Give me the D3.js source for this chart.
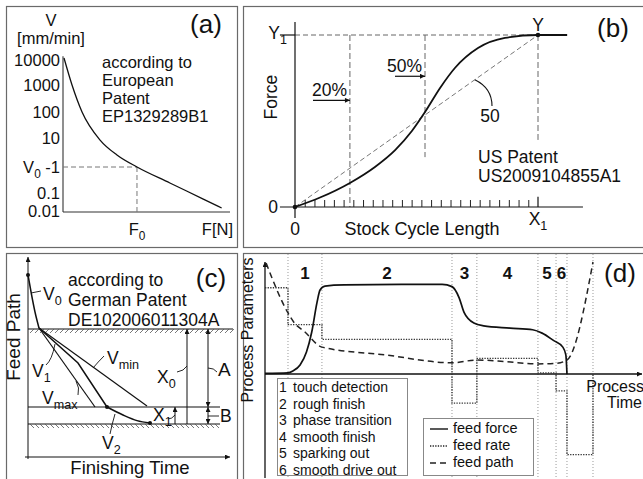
<!DOCTYPE html>
<html>
<head>
<meta charset="utf-8">
<script src="https://cdn.jsdelivr.net/npm/d3@7/dist/d3.min.js"></script>
<style>
html,body{margin:0;padding:0;background:#fff;}
svg{display:block;}
text{font-family:"Liberation Sans",Arial,Helvetica,sans-serif;fill:#111;}
</style>
</head>
<body>
<svg id="fig" width="643" height="479"></svg>
<script>
// ================= DATA =================
// Panel (a)
const aForce = [0.6, 5.4, 11.4, 22.2, 32.3, 44.3, 64, 84, 95];
const aSpeed = [12000, 1000, 100, 8.5, 2.6, 1, 0.243, 0.046, 0.0147];
const aTickValues = [0.01, 0.1, 1, 10, 100, 1000, 10000];
const aTickLabels = ["0.01", "0.1", "V0 -1", "10", "100", "1000", "10000"];
const aF0 = 44.3, aV0 = 1;
const aNote = ["according to", "European", "Patent", "EP1329289B1"];

// Panel (b)
const bLength = [0, 10.3, 22.6, 32.9, 41.2, 48.1, 53.5, 59.7, 65.8, 75.3, 86.4, 100, 112];
const bForce  = [0, 5.5, 14, 23.3, 33.1, 44.2, 55.2, 69.2, 80.8, 92.4, 98.3, 100, 100];
const bMarkPos = [22.6, 53.5];
const bMarkLabels = ["20%", "50%"];
const bMarkBottom = [0, 29];
const bTicks = [4,8,12,16,20,24,28,32,36,40,44,48,52,56,60,64,68,72,76,80,84,88,92,96];
const bNote = ["US Patent", "US2009104855A1"];

// Panel (c)
const cApproachT = [0, 1.8, 3.5, 5.5];
const cApproachX = [91, 81, 72.5, 64.5];
const cV1T = [5.5, 25, 39.5];
const cV1X = [64.5, 47, 25];
const cV2T = [39.5, 47.5, 54.5, 61];
const cV2X = [25, 21, 18.2, 17];
const cVmaxT = [5.5, 33.5], cVmaxX = [64.5, 25];
const cVminT = [5.5, 59.5], cVminX = [64.5, 25.5];
const cLevelX0 = 64, cLevelX1 = 25, cLevelEnd = 16.5;
const cNote = ["according to", "German Patent", "DE102006011304A"];

// Panel (d)
const dPhaseBounds = [6.1, 15.1, 49.6, 56.2, 72.4, 77.2, 80.1, 87];
const dPhaseLabels = ["1", "2", "3", "4", "5", "6"];
const dForceT = [0, 6.1, 7.4, 9.3, 11, 12.4, 13.8, 14.6, 15.9, 21, 40, 47, 49.6, 51.5, 52.8, 55.4, 58, 65, 71, 73.5, 76.5, 79, 79.8, 80.1];
const dForceV = [0.5, 1, 2.7, 8, 19.6, 37.5, 64, 75, 78.5, 79.5, 80, 80, 78, 68, 55, 45.5, 43, 41, 39.5, 36.5, 30, 24, 17, 0];
const dRateT = [0, 6.1, 15.1, 49.6, 56.2, 72.4, 77.2, 80.1, 87];
const dRateV = [77, 44, 31, -26, 14, 1, -15, -72, 0];
const dPathT = [0.3, 6.1, 7.7, 10.6, 15.1, 32, 49.6, 56.2, 64, 72.4, 77.2, 80.1, 87];
const dPathV = [99, 54.5, 46, 37.5, 24, 17, 10, 12.5, 11, 9, 9.5, 12.5, 100];
const dPhaseNames = ["touch detection", "rough finish", "phase transition", "smooth finish", "sparking out", "smooth drive out"];
const dLegendNames = ["feed force", "feed rate", "feed path"];

// ================= HELPERS =================
const svg = d3.select("#fig");
svg.append("rect").attr("width",643).attr("height",479).attr("fill","#fff");
const defs = svg.append("defs");
function mk(id, w, h) {
  defs.append("marker").attr("id", id).attr("viewBox","0 0 10 10")
    .attr("refX",10).attr("refY",5).attr("markerWidth",w).attr("markerHeight",h)
    .attr("markerUnits","userSpaceOnUse").attr("orient","auto-start-reverse")
    .append("path").attr("d","M0,0 L10,5 L0,10 Z").attr("fill","#111");
}
mk("arr", 8, 6); mk("arrS", 6, 5);
function ln(g, x1, y1, x2, y2, o = {}) {
  const l = g.append("line").attr("x1",x1).attr("y1",y1).attr("x2",x2).attr("y2",y2)
    .attr("stroke", o.c || "#111").attr("stroke-width", o.w || 1);
  if (o.d) l.attr("stroke-dasharray", o.d);
  if (o.ms) l.attr("marker-start", `url(#${o.ms})`);
  if (o.me) l.attr("marker-end", `url(#${o.me})`);
  return l;
}
// parts: array of [text, isSub]
function tx(g, x, y, parts, o = {}) {
  const size = o.size || 17;
  const t = g.append("text").attr("x", x).attr("y", y).attr("font-size", size)
    .attr("text-anchor", o.anchor || "start");
  if (o.weight) t.attr("font-weight", o.weight);
  if (o.rot) t.attr("transform", `rotate(${o.rot},${x},${y})`);
  if (typeof parts === "string") parts = [[parts, false]];
  let sub = false;
  parts.forEach(([s, isSub]) => {
    const sp = t.append("tspan").text(s);
    if (isSub && !sub) { sp.attr("dy", size * 0.28).attr("font-size", size * 0.72); sub = true; }
    else if (!isSub && sub) { sp.attr("dy", -size * 0.28); sub = false; }
    else if (isSub) sp.attr("font-size", size * 0.72);
  });
  return t;
}

// panel frames
[[6,6,231,241],[243,6,402,241],[6,253,231,227],[243,253,402,227]].forEach(r => {
  svg.append("rect").attr("x",r[0]+0.5).attr("y",r[1]+0.5).attr("width",r[2]).attr("height",r[3])
    .attr("fill","none").attr("stroke","#6a6a6a").attr("stroke-width",1.2);
});

// ================= PANEL (a) =================
{
  const g = svg.append("g");
  const x = d3.scaleLinear().domain([0, 100]).range([63, 230]);
  const yl = d3.scaleLinear().domain(aTickValues.map(Math.log10)).range([211, 193, 167, 138, 112, 85, 60]);
  const y = v => yl(Math.log10(v));
  ln(g, x(0), y(0.01) + 1, x(0), y(14000), {w: 1.1, c: "#333"});
  ln(g, x(0), y(0.01) + 1, x(100), y(0.01) + 1, {w: 1.1, c: "#333"});
  ln(g, x(0), y(aV0), x(aF0), y(aV0), {c: "#777", d: "5,3"});
  ln(g, x(aF0), y(aV0), x(aF0), y(0.01) + 1, {c: "#777", d: "5,3"});
  g.append("path").datum(aForce.map((f, i) => [f, aSpeed[i]]))
    .attr("fill","none").attr("stroke","#111").attr("stroke-width",1.3)
    .attr("d", d3.line().x(d => x(d[0])).y(d => y(d[1])).curve(d3.curveMonotoneX));
  aTickValues.forEach((v, i) => {
    const lab = aTickLabels[i];
    const parts = lab.startsWith("V0") ? [["V", false], ["0", true], [" -1", false]] : lab;
    tx(g, 60, y(v) + 6, parts, {anchor: "end", size: 16.5});
  });
  tx(g, 51, 26, "V", {anchor: "middle", size: 16.5});
  tx(g, 51, 44, "[mm/min]", {anchor: "middle", size: 16.5});
  tx(g, x(aF0), 235, [["F", false], ["0", true]], {anchor: "middle", size: 16.5});
  tx(g, 233, 235, "F[N]", {anchor: "end", size: 16.5});
  tx(g, 206, 33, "(a)", {anchor: "middle", size: 26});
  aNote.forEach((s, i) => tx(g, 102, 68 + i * 18, s, {size: 16.5}));
}

// ================= PANEL (b) =================
{
  const g = svg.append("g");
  const x = d3.scaleLinear().domain([0, 100]).range([295, 538]);
  const y = d3.scaleLinear().domain([0, 100]).range([207, 35]);
  // guides
  ln(g, x(0), y(100), x(100), y(100), {c: "#666", d: "5,3"});
  ln(g, x(0), y(0), x(100), y(100), {c: "#777", d: "5,3"});
  bMarkPos.forEach((p, i) => ln(g, x(p), y(100), x(p), y(bMarkBottom[i]), {c: "#666", d: "6,3"}));
  ln(g, x(100), y(100), x(100), y(39), {c: "#666", d: "6,3"});
  // axes
  ln(g, x(-6.2), y(0), x(118.5), y(0), {w: 1.2});
  ln(g, x(0), y(-6.4), x(0), y(107.6), {w: 1.2});
  ln(g, x(-6.2), y(100), x(0), y(100), {w: 1.2});
  ln(g, x(100), y(0), x(100), y(6), {w: 1.2});
  const ax = g.append("g").attr("transform", `translate(0,${y(0)})`)
    .call(d3.axisBottom(x).tickValues(bTicks).tickSize(-7).tickFormat(""));
  ax.select(".domain").remove();
  ax.selectAll("line").attr("stroke","#222").attr("stroke-width",1);
  // curve
  g.append("path").datum(bLength.map((l, i) => [l, bForce[i]]))
    .attr("fill","none").attr("stroke","#111").attr("stroke-width",1.8)
    .attr("d", d3.line().x(d => x(d[0])).y(d => y(d[1])).curve(d3.curveMonotoneX));
  g.append("circle").attr("cx", x(0)).attr("cy", y(0)).attr("r", 2.3).attr("fill","#111");
  g.append("circle").attr("cx", x(100)).attr("cy", y(100)).attr("r", 2.3).attr("fill","#111");
  // percent markers
  tx(g, 312, y(64.5), bMarkLabels[0], {size: 17.5});
  ln(g, 313, y(62), x(bMarkPos[0]), y(62), {w: 1.2, me: "arrS"});
  tx(g, 387, y(78.5), bMarkLabels[1], {size: 17.5});
  ln(g, 395, y(76), x(bMarkPos[1]), y(76), {w: 1.2, me: "arrS"});
  // "50" callout
  g.append("path").attr("d", `M${x(74)},${y(74)} Q492,88 492,106`).attr("fill","none").attr("stroke","#111").attr("stroke-width",1.1);
  tx(g, 490, 122, "50", {anchor: "middle", size: 17.5});
  bNote.forEach((s, i) => tx(g, 478, 163 + i * 19, s, {size: 17.5}));
  tx(g, 613, 37, "(b)", {anchor: "middle", size: 26});
  tx(g, 277, 97, "Force", {anchor: "middle", size: 17.5, rot: -90});
  tx(g, 422, 235, "Stock Cycle Length", {anchor: "middle", size: 18});
  tx(g, x(0), 235, "0", {anchor: "middle", size: 17.5});
  tx(g, 538, 225, [["X", false], ["1", true]], {anchor: "middle", size: 17.5});
  tx(g, 538, 31, "Y", {anchor: "middle", size: 17.5});
  tx(g, 287, 39, [["Y", false], ["1", true]], {anchor: "end", size: 17.5});
  tx(g, 278, 213, "0", {anchor: "end", size: 17.5});
}

// ================= PANEL (c) =================
{
  const g = svg.append("g");
  const x = d3.scaleLinear().domain([0, 100]).range([28, 228]);
  const y = d3.scaleLinear().domain([0, 100]).range([457, 257]);
  // axes
  ln(g, x(0), y(-1), x(0), y(100), {w: 1, me: "arrS"});
  ln(g, x(-1.5), y(0), x(101), y(0), {w: 1, me: "arrS"});
  // level lines
  ln(g, x(0), y(cLevelX0), x(102.5), y(cLevelX0), {w: 1.1});
  ln(g, x(0), y(cLevelX1), x(96), y(cLevelX1), {w: 1.1});
  ln(g, x(0), y(cLevelEnd), x(96), y(cLevelEnd), {w: 1.1});
  d3.range(x(1), x(102), 5).forEach(h => ln(g, h, y(cLevelX0) + 4, h + 4, y(cLevelX0), {w: 0.8, c: "#555"}));
  d3.range(x(1), x(95), 5).forEach(h => ln(g, h, y(cLevelEnd), h + 4, y(cLevelEnd) + 4, {w: 0.8, c: "#555"}));
  const lg = d3.line().x(d => x(d[0])).y(d => y(d[1]));
  const path = (T, X, w, curve) => g.append("path").datum(T.map((t, i) => [t, X[i]]))
    .attr("fill","none").attr("stroke","#111").attr("stroke-width",w)
    .attr("d", lg.curve(curve || d3.curveLinear));
  path(cApproachT, cApproachX, 1.5, d3.curveMonotoneX);
  path(cV1T, cV1X, 1.5);
  path(cV2T, cV2X, 1.5, d3.curveMonotoneX);
  path(cVmaxT, cVmaxX, 1.2);
  path(cVminT, cVminX, 1.2);
  [[cApproachT[0], cApproachX[0]], [cV2T[0], cV2X[0]], [cV2T[3], cV2X[3]]].forEach(p =>
    g.append("circle").attr("cx", x(p[0])).attr("cy", y(p[1])).attr("r", 2).attr("fill","#111"));
  // dimension arrows
  ln(g, x(79.5), y(cLevelEnd), x(79.5), y(cLevelX0), {w: 1, me: "arrS"});
  ln(g, x(90), y(cLevelX1), x(90), y(cLevelX0), {w: 1, me: "arrS", ms: "arrS"});
  ln(g, x(90), y(cLevelEnd), x(90), y(cLevelX1), {w: 1, me: "arrS", ms: "arrS"});
  ln(g, x(73.5), y(cLevelEnd), x(73.5), y(cLevelX1), {w: 1, me: "arrS"});
  // leaders
  const lead = d => g.append("path").attr("d", d).attr("fill","none").attr("stroke","#111").attr("stroke-width",0.9);
  lead("M31,293 L41,291");
  lead("M46,365 Q52,360 55,344");
  lead("M104,356 Q98,362 93,368");
  lead("M78,395 Q80,388 76,381");
  lead("M177,372 Q184,371 187,366");
  lead("M208,368 Q214,368 217,372");
  lead("M208,416 L219,416");
  lead("M168,419 Q172,419 175,415");
  lead("M110,434 Q112,424 115,414");
  // labels
  tx(g, 43, 300, [["V", false], ["0", true]], {size: 17.5});
  tx(g, 32, 377, [["V", false], ["1", true]], {size: 17.5});
  tx(g, 107, 364, [["V", false], ["min", true]], {size: 17.5});
  tx(g, 42, 404, [["V", false], ["max", true]], {size: 17.5});
  tx(g, 157, 383, [["X", false], ["0", true]], {size: 17.5});
  tx(g, 153, 421, [["X", false], ["1", true]], {size: 17.5});
  tx(g, 102, 449, [["V", false], ["2", true]], {size: 17.5});
  tx(g, 218, 376, "A", {size: 19});
  tx(g, 220, 422, "B", {size: 17.5});
  tx(g, 211, 287, "(c)", {anchor: "middle", size: 26});
  cNote.forEach((s, i) => tx(g, 68, 286 + i * 20, s, {size: 17.5}));
  tx(g, 20, 337, "Feed Path", {anchor: "middle", size: 19, rot: -90});
  tx(g, 130, 474, "Finishing Time", {anchor: "middle", size: 18.5});
}

// ================= PANEL (d) =================
{
  const g = svg.append("g");
  const x = d3.scaleLinear().domain([0, 100]).range([265, 642]);
  const y = d3.scaleLinear().domain([0, 100]).range([374, 262]);
  dPhaseBounds.forEach(b => ln(g, x(b), 254, x(b), 478, {c: "#9a9a9a", d: "1,2"}));
  const mids = dPhaseLabels.map((s, i) => (dPhaseBounds[i] + dPhaseBounds[i + 1]) / 2);
  dPhaseLabels.forEach((s, i) => tx(g, x(mids[i]), 279, s, {anchor: "middle", size: 17, weight: "bold"}));
  tx(g, 620, 282, "(d)", {anchor: "middle", size: 26});
  // axes
  ln(g, x(0), 478, x(0), y(100), {w: 1.3, me: "arrS"});
  ln(g, x(0), y(0), x(100), y(0), {w: 1.3, me: "arrS"});
  const lg = d3.line().x(d => x(d[0])).y(d => y(d[1]));
  g.append("path").datum(dRateT.map((t, i) => [t, dRateV[i]]))
    .attr("fill","none").attr("stroke","#333").attr("stroke-width",1.3).attr("stroke-dasharray","1.3,1.3")
    .attr("d", lg.curve(d3.curveStepAfter));
  g.append("path").datum(dPathT.map((t, i) => [t, dPathV[i]]))
    .attr("fill","none").attr("stroke","#222").attr("stroke-width",1.5).attr("stroke-dasharray","6,4")
    .attr("d", lg.curve(d3.curveMonotoneX));
  g.append("path").datum(dForceT.map((t, i) => [t, dForceV[i]]))
    .attr("fill","none").attr("stroke","#111").attr("stroke-width",1.7)
    .attr("d", lg.curve(d3.curveMonotoneX));
  tx(g, 253, 330, "Process Parameters", {anchor: "middle", size: 16, rot: -90});
  tx(g, 644, 392, "Process", {anchor: "end", size: 16});
  tx(g, 642, 408, "Time", {anchor: "end", size: 16});
  // legend 1
  g.append("rect").attr("x", 277.5).attr("y", 378.5).attr("width", 130).attr("height", 97)
    .attr("fill","#fff").attr("stroke","#888").attr("stroke-width",1);
  dPhaseNames.forEach((s, i) => {
    tx(g, 279, 392 + i * 16.5, dPhaseLabels[i], {size: 14});
    tx(g, 293, 392 + i * 16.5, s, {size: 14});
  });
  // legend 2
  g.append("rect").attr("x", 423.5).attr("y", 418.5).attr("width", 110).attr("height", 57)
    .attr("fill","#fff").attr("stroke","#888").attr("stroke-width",1);
  const styles = [null, "1.3,1.3", "6,4"];
  dLegendNames.forEach((s, i) => {
    const yy = 433 + i * 17;
    ln(g, 430, yy - 4, 448, yy - 4, {w: i === 0 ? 1.5 : 1.3, d: styles[i], c: "#222"});
    tx(g, 453, yy, s, {size: 14.5});
  });
}
</script>
</body>
</html>
